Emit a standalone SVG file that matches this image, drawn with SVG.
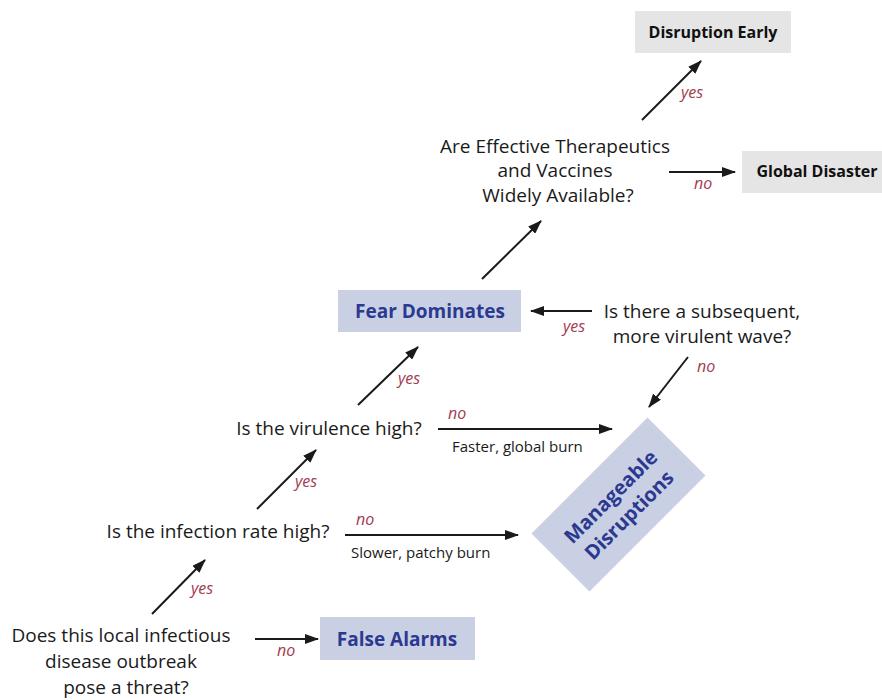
<svg xmlns="http://www.w3.org/2000/svg" width="882" height="700" viewBox="0 0 882 700">
<defs>
<marker id="ah" viewBox="0 0 14 10" refX="13" refY="5" markerWidth="14" markerHeight="10" markerUnits="userSpaceOnUse" orient="auto">
<path d="M0,0 L14,5 L0,10 Z" fill="#1a1a1a"/>
</marker>
<style>
.q{font-family:"Open Sans","Liberation Sans",sans-serif;font-size:19px;fill:#1a1a1a;text-anchor:middle}
.lab{font-family:"Open Sans","Liberation Sans",sans-serif;font-size:16px;font-style:italic;fill:#a33a4f}
.sub{font-family:"Open Sans","Liberation Sans",sans-serif;font-size:15px;fill:#1a1a1a}
.bb{fill:#c9d0e4}
.gb{fill:#e5e5e5}
.bt{font-family:"Open Sans","Liberation Sans",sans-serif;font-size:19px;font-weight:bold;fill:#2b3990;text-anchor:middle}
.gt{font-family:"Open Sans","Liberation Sans",sans-serif;font-size:16px;font-weight:bold;fill:#111;text-anchor:middle}
.c{stroke:#1a1a1a;stroke-width:2;fill:none;marker-end:url(#ah)}
</style>
</defs>
<rect width="882" height="700" fill="#fff"/>
<g id="q-threat">
<text class="q" x="121" y="642">Does this local infectious</text>
<text class="q" x="121" y="668">disease outbreak</text>
<text class="q" x="126" y="694">pose a threat?</text>
</g>
<g id="q-infection"><text class="q" x="218" y="538">Is the infection rate high?</text></g>
<g id="q-virulence"><text class="q" x="329" y="435">Is the virulence high?</text></g>
<g id="q-wave">
<text class="q" x="702" y="318">Is there a subsequent,</text>
<text class="q" x="702" y="343">more virulent wave?</text>
</g>
<g id="q-therapeutics">
<text class="q" x="555" y="153">Are Effective Therapeutics</text>
<text class="q" x="555" y="177">and Vaccines</text>
<text class="q" x="558" y="202">Widely Available?</text>
</g>
<g id="n-false-alarms">
<rect class="bb" x="320" y="617" width="155" height="43"/>
<text class="bt" x="397" y="646">False Alarms</text>
</g>
<g id="n-fear">
<rect class="bb" x="338" y="290" width="183" height="42"/>
<text class="bt" x="430" y="318">Fear Dominates</text>
</g>
<g id="n-manageable" transform="translate(618.5,504.5) rotate(-45)">
<rect class="bb" x="-82" y="-41" width="164" height="82"/>
<text class="bt" x="0" y="-4" style="font-size:20px">Manageable</text>
<text class="bt" x="0" y="22" style="font-size:20px">Disruptions</text>
</g>
<g id="n-early">
<rect class="gb" x="635" y="11" width="156" height="42"/>
<text class="gt" x="713" y="38">Disruption Early</text>
</g>
<g id="n-global">
<rect class="gb" x="742" y="151" width="140" height="42"/>
<text class="gt" x="817" y="177">Global Disaster</text>
</g>
<g id="connectors">
<line class="c" x1="152" y1="614" x2="205" y2="560"/>
<line class="c" x1="255" y1="639" x2="318" y2="639"/>
<line class="c" x1="257" y1="509" x2="316" y2="450"/>
<line class="c" x1="345" y1="535" x2="518" y2="535"/>
<line class="c" x1="358" y1="405" x2="418" y2="347"/>
<line class="c" x1="438" y1="429" x2="612" y2="429"/>
<line class="c" x1="482" y1="279" x2="541" y2="221"/>
<line class="c" x1="592" y1="311" x2="531" y2="311"/>
<line class="c" x1="688" y1="357" x2="649" y2="407"/>
<line class="c" x1="642" y1="120" x2="701" y2="61"/>
<line class="c" x1="669" y1="172" x2="735" y2="172"/>
</g>
<g id="labels">
<text class="lab" x="191" y="594">yes</text>
<text class="lab" x="277" y="656">no</text>
<text class="lab" x="295" y="487">yes</text>
<text class="lab" x="356" y="525">no</text>
<text class="sub" x="351" y="558">Slower, patchy burn</text>
<text class="lab" x="398" y="384">yes</text>
<text class="lab" x="448" y="419">no</text>
<text class="sub" x="452" y="452">Faster, global burn</text>
<text class="lab" x="563" y="332">yes</text>
<text class="lab" x="697" y="372">no</text>
<text class="lab" x="681" y="98">yes</text>
<text class="lab" x="694" y="189">no</text>
</g>
</svg>
